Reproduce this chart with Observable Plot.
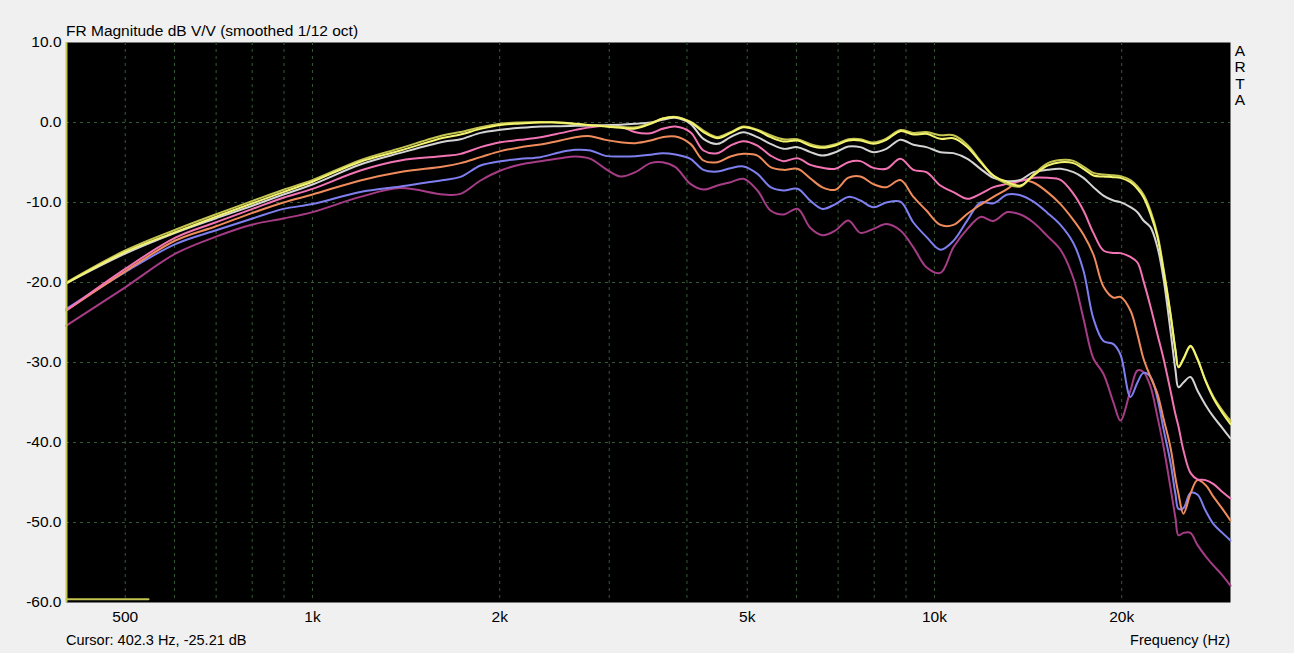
<!DOCTYPE html>
<html><head><meta charset="utf-8">
<script src="https://cdn.jsdelivr.net/npm/d3@7"></script>
<script src="https://cdn.jsdelivr.net/npm/@observablehq/plot@0.6"></script>
<style>
html,body{margin:0;padding:0;background:#f0f0f0;}
#chart{width:1294px;height:653px;overflow:hidden;}
</style></head><body><div id="chart"></div>
<script>
// Frequency grid (Hz)
const freqHz = [402,500,602,698,801,898,1000,1194,1385,1624,1730,1863,2006,2160,2326,2504,2647,2798,2959,3128,3306,3494,3653,3834,4052,4252,4478,4699,4931,5193,5450,5719,6023,6318,6606,6931,7272,7602,7976,8369,8815,9250,9707,10224,10728,11300,11858,12440,13102,13748,14425,15193,15944,16730,17358,18011,18690,19398,19907,20658,21201,21677,22248,22830,23346,23956,24408,24679,25139,25800,26470,27276,28100,29040,29920];

const dbOlive = [-20.0,-16.0,-13.4,-11.5,-9.8,-8.4,-7.2,-4.7,-3.2,-1.6,-1.2,-0.6,-0.15,0,0.05,-0.05,-0.2,-0.35,-0.45,-0.55,-0.6,-0.1,0.5,0.7,0.1,-1.0,-1.8,-1.2,-0.5,-0.9,-1.6,-2.1,-2.1,-2.7,-3.0,-2.7,-2.1,-2.1,-2.5,-2.0,-0.95,-1.3,-1.2,-1.6,-1.6,-2.8,-4.8,-6.7,-7.7,-8.0,-6.5,-5.1,-4.7,-4.8,-5.5,-6.3,-6.5,-6.6,-6.7,-7.2,-8.0,-9.0,-11.0,-14.0,-18.2,-23.8,-28.5,-30.6,-29.6,-28.0,-29.6,-32.2,-34.3,-36.0,-37.3];
const dbYellow = [-20.1,-16.2,-13.7,-11.8,-10.1,-8.7,-7.4,-4.9,-3.5,-1.9,-1.5,-0.8,-0.3,-0.13,0,0,-0.17,-0.33,-0.5,-0.67,-0.75,-0.17,0.46,0.67,0.04,-1.2,-1.96,-1.33,-0.6,-1.0,-1.83,-2.38,-2.25,-2.9,-3.17,-2.88,-2.25,-2.25,-2.67,-2.17,-1.08,-1.5,-1.42,-2.04,-1.96,-3.08,-4.96,-6.63,-7.46,-7.88,-6.63,-5.38,-4.96,-5.08,-5.79,-6.63,-6.75,-6.83,-6.92,-7.46,-8.29,-9.33,-11.42,-14.33,-18.5,-24,-28.5,-30.6,-29.5,-27.9,-29.5,-32.3,-34.5,-36.3,-37.7];
const dbGrey = [-20.1,-16.4,-13.8,-12.0,-10.4,-9.0,-7.75,-5.25,-3.8,-2.4,-2.1,-1.3,-0.92,-0.67,-0.5,-0.46,-0.42,-0.38,-0.33,-0.29,-0.17,0,0.33,0.58,-0.17,-2.04,-2.67,-1.83,-1.21,-1.83,-2.67,-3.29,-3.08,-3.7,-4.13,-3.71,-3.0,-3.08,-3.71,-3.29,-2.17,-2.79,-3.08,-3.71,-3.83,-4.54,-5.79,-6.92,-7.33,-7.17,-6.21,-5.92,-5.79,-6.21,-6.92,-8.08,-9.13,-9.75,-9.96,-10.58,-11.21,-12.25,-13.08,-15.58,-19.5,-26,-31,-33.1,-32.5,-31.8,-33.5,-35.3,-36.8,-38.2,-39.5];
const dbPink = [-23.5,-18.3,-14.4,-12.5,-10.8,-9.4,-8.3,-6.0,-4.75,-4.2,-3.92,-3.08,-2.46,-2.17,-1.83,-1.33,-0.92,-0.58,-0.42,-0.5,-1.21,-1.33,-0.79,-0.5,-1.21,-3.5,-3.83,-2.88,-2.33,-2.88,-4.13,-4.83,-4.46,-5.3,-5.67,-5.79,-4.96,-4.83,-5.67,-5.79,-4.54,-5.92,-6.21,-7.88,-8.71,-9.54,-8.92,-8.08,-7.67,-7.33,-6.92,-6.92,-7.17,-8.92,-11.0,-13.8,-16.0,-16.3,-16.33,-16.8,-17.5,-19.8,-23,-26.5,-29.5,-33.5,-36.5,-38,-41,-43.8,-44.6,-44.7,-45.2,-46.2,-47.0];
const dbOrange = [-23.5,-18.6,-14.75,-13.0,-11.3,-10.0,-9.0,-7.25,-6.2,-5.5,-5.08,-4.33,-3.58,-3.08,-2.75,-2.25,-1.83,-1.71,-2.17,-2.46,-2.58,-2.25,-1.83,-1.75,-2.67,-4.75,-4.96,-4.25,-3.92,-4.13,-5.58,-5.92,-5.79,-7.0,-8.1,-8.4,-6.9,-6.75,-7.7,-8.1,-7.2,-9.3,-11.0,-12.8,-12.8,-11.4,-10.3,-9.3,-8.3,-7.2,-7.5,-8.7,-10.2,-12.2,-14.0,-16.5,-20.5,-21.9,-21.8,-23.5,-26.5,-29.5,-31.8,-33.9,-37,-40.6,-44.5,-46.4,-48.9,-46.4,-44.7,-45.3,-46.8,-48.3,-49.75];
const dbBlue = [-23.3,-18.7,-15.2,-13.5,-12.0,-10.8,-10.2,-8.7,-8.0,-7.2,-6.8,-5.38,-4.83,-4.54,-4.33,-3.71,-3.42,-3.5,-4.17,-4.25,-4.21,-4.04,-3.83,-4.0,-4.54,-5.92,-6.13,-5.71,-5.5,-6.42,-8.08,-8.5,-8.29,-9.8,-10.8,-10.2,-9.3,-9.75,-10.6,-10.0,-9.9,-12.5,-14.3,-15.9,-14.8,-12.2,-10.0,-10.1,-9.0,-9.1,-9.9,-11.3,-12.8,-15.1,-18.5,-24.5,-27.3,-27.7,-29,-34.3,-32.5,-31.3,-31.8,-34.5,-38.3,-42.5,-46.5,-48.3,-48.2,-46.3,-46.5,-48.5,-50.2,-51.3,-52.25];
const dbPurple = [-25.4,-20.6,-16.4,-14.3,-12.75,-12.0,-11.2,-9.3,-8.2,-9.0,-8.92,-7.25,-6.0,-5.25,-4.83,-4.46,-4.25,-4.54,-5.79,-6.75,-6.21,-5.08,-4.96,-5.58,-7.67,-8.38,-7.88,-7.46,-7.04,-8.5,-11.0,-11.5,-10.79,-13.2,-14.1,-13.5,-12.25,-13.8,-13.3,-12.7,-13.5,-15.6,-18.1,-18.8,-15.6,-13.3,-11.8,-12.3,-11.2,-11.5,-12.5,-14.2,-15.9,-19.5,-24.5,-29.5,-31.4,-35,-37.25,-33.5,-31,-31.2,-33,-36.8,-40.5,-45.6,-49.5,-51.6,-51.3,-51.3,-52.8,-54.2,-55.4,-56.6,-57.9];

const seriesNames = ["purple","blue","orange","pink","grey","olive","yellow"];
const seriesValues = [dbPurple, dbBlue, dbOrange, dbPink, dbGrey, dbOlive, dbYellow];
const seriesColors = ["#a63c86","#7f7ff0","#f08c5c","#f274b4","#d4d4d4","#c4c450","#f4f470"];

const xTickValues = [500,1000,2000,5000,10000,20000];
const xTickLabels = ["500","1k","2k","5k","10k","20k"];
const xGridValues = [500,600,700,800,900,1000,2000,3000,4000,5000,6000,7000,8000,9000,10000,20000];
const yTickValues = [10,0,-10,-20,-30,-40,-50,-60];
const yGridValues = [0,-10,-20,-30,-40,-50];
const xDomain = [402.3, 29920];
const yDomain = [-60, 10];
const cursorFreq = 402.3;
const cursorDb = -25.21;
const markerFreqs = [402.3, 545];
const markerDb = -59.6;
const titleText = "FR Magnitude dB V/V (smoothed 1/12 oct)";
const xLabelText = "Frequency (Hz)";
const brandLetters = ["A","R","T","A"];

const lineMarks = seriesNames.map((name, k) =>
  Plot.line(freqHz.map((f, i) => ({f, db: seriesValues[k][i]})), {
    x: "f", y: "db", stroke: seriesColors[k], strokeWidth: 2, strokeLinejoin: "round", curve: "catmull-rom"
  })
);

const chart = Plot.plot({
  width: 1294, height: 653,
  marginTop: 42, marginBottom: 51, marginLeft: 66, marginRight: 64,
  x: {type: "log", domain: xDomain},
  y: {domain: yDomain},
  style: {background: "#f0f0f0", fontFamily: "'Liberation Sans', Arial, sans-serif", fontSize: "15px", color: "#000"},
  marks: [
    Plot.frame({fill: "#000"}),
    Plot.ruleX(xGridValues, {stroke: "#355a35", strokeDasharray: "3,4", strokeWidth: 1}),
    Plot.ruleY(yGridValues, {stroke: "#355a35", strokeDasharray: "3,4", strokeWidth: 1}),
    ...lineMarks,
    Plot.ruleX([cursorFreq], {stroke: "#c4c450", strokeWidth: 2}),
    Plot.line(markerFreqs.map(f => ({f, db: markerDb})), {x: "f", y: "db", stroke: "#c4c450", strokeWidth: 2}),
    Plot.axisY(yTickValues, {tickSize: 0, tickPadding: 5, tickFormat: d => d.toFixed(1), label: null, fontSize: 15.5, fill: "#000"}),
    Plot.axisX(xTickValues, {tickSize: 0, tickPadding: 8, tickFormat: d => xTickLabels[xTickValues.indexOf(d)], label: null, fontSize: 15.5, fill: "#000"})
  ]
});

document.getElementById("chart").appendChild(chart);
const svg = d3.select(chart);
const font = "'Liberation Sans', Arial, sans-serif";
const addText = (x, y, txt, anchor, size) => svg.append("text")
  .attr("x", x).attr("y", y).attr("text-anchor", anchor)
  .style("text-anchor", anchor)
  .attr("font-family", font).attr("font-size", size).attr("fill", "#000").text(txt);
addText(66, 36, titleText, "start", 15.5);
addText(66, 645, `Cursor: ${cursorFreq} Hz, ${cursorDb} dB`, "start", 14.5);
addText(1230, 645, xLabelText, "end", 14.5);
brandLetters.forEach((ch, i) => addText(1240, 56 + i * 16.3, ch, "middle", 15.5));
</script></body></html>
